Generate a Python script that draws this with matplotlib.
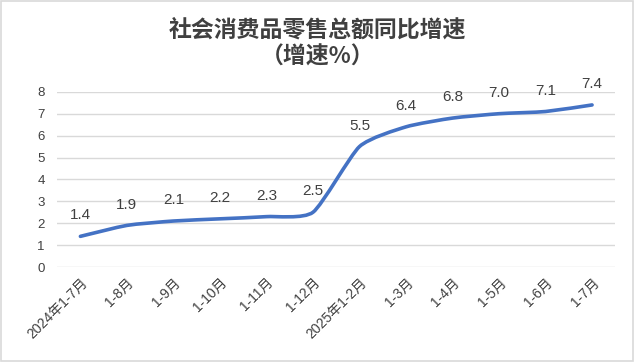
import matplotlib.pyplot as plt
import numpy as np
from matplotlib.path import Path
from matplotlib.patches import PathPatch, Rectangle

plt.rcParams['font.family'] = ['Liberation Sans', 'Noto Sans CJK SC']

categories = ['2024年1-7月', '1-8月', '1-9月', '1-10月', '1-11月', '1-12月',
              '2025年1-2月', '1-3月', '1-4月', '1-5月', '1-6月', '1-7月']
values = [1.4, 1.9, 2.1, 2.2, 2.3, 2.5, 5.5, 6.4, 6.8, 7.0, 7.1, 7.4]
yticks = [0, 1, 2, 3, 4, 5, 6, 7, 8]

blue = '#4472C4'

fig = plt.figure(figsize=(6.35, 3.62), dpi=100)
fig.patches.append(Rectangle((0.002, 0.003), 0.995, 0.994, transform=fig.transFigure,
                             fill=False, edgecolor='#D9D9D9', linewidth=1.2))
ax = fig.add_axes([0.09, 0.2624, 0.879, 0.484])

x = np.arange(len(values))
y = np.array(values)

# smoothed line like Excel: bezier through the data points
verts = [(x[0], y[0])]
codes = [Path.MOVETO]
t = 0.1
for i in range(len(x) - 1):
    x0, y0 = (x[i - 1], y[i - 1]) if i > 0 else (x[i], y[i])
    x3, y3 = (x[i + 2], y[i + 2]) if i + 2 < len(x) else (x[i + 1], y[i + 1])
    c1 = (x[i] + (x[i + 1] - x0) * t, y[i] + (y[i + 1] - y0) * t)
    c2 = (x[i + 1] - (x3 - x[i]) * t, y[i + 1] - (y3 - y[i]) * t)
    verts += [c1, c2, (x[i + 1], y[i + 1])]
    codes += [Path.CURVE4] * 3
ax.add_patch(PathPatch(Path(verts, codes), facecolor='none', edgecolor=blue,
                       linewidth=2.6, capstyle='round', joinstyle='round'))

for xi, yi in zip(x, y):
    ax.annotate(f'{yi:.1f}', (xi, yi), xytext=(0, 10), textcoords='offset points',
                ha='center', va='bottom', fontsize=11, color='#404040')

ax.set_xlim(-0.5, len(values) - 0.5)
ax.set_ylim(0, 8)
ax.set_yticks(yticks)
ax.set_xticks(x)
ax.set_xticklabels(categories, rotation=45, ha='right', rotation_mode='anchor',
                   fontsize=10, color='#404040')
ax.tick_params(axis='y', labelsize=9.5, labelcolor='#404040', length=0, pad=9)
ax.tick_params(axis='x', length=0, pad=6)
ax.grid(axis='y', color='#D9D9D9', linewidth=1)
ax.set_axisbelow(True)
for s in ax.spines.values():
    s.set_visible(False)

fig.text(0.5, 0.917, '社会消费品零售总额同比增速', ha='center', va='center',
         fontsize=16.5, fontweight='bold', color='#404040', family='Noto Sans CJK SC')
fig.text(0.5, 0.843, '（增速%）', ha='center', va='center',
         fontsize=16.5, fontweight='bold', color='#404040', family='Noto Sans CJK SC')

fig.savefig('out.png', dpi=100)
